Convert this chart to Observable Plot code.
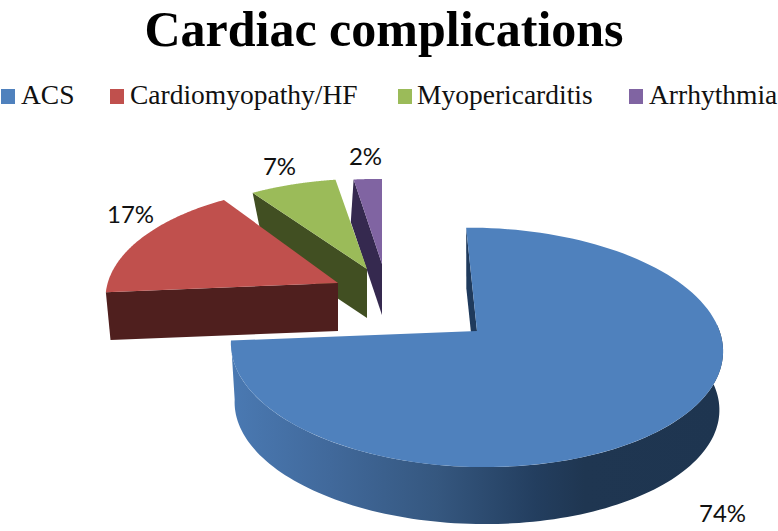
<!DOCTYPE html>
<html><head><meta charset="utf-8">
<script src="https://cdn.jsdelivr.net/npm/d3@7"></script>
<script src="https://cdn.jsdelivr.net/npm/@observablehq/plot@0.6"></script>
<style>
html,body{margin:0;padding:0;background:#fff;width:778px;height:531px;overflow:hidden}
#wrap{position:relative;width:778px;height:531px}
#title{position:absolute;left:0;top:3px;width:768px;text-align:center;font:bold 50px "Liberation Serif",serif;color:#000;line-height:52px;white-space:nowrap}
.sw{position:absolute;top:89px;width:14px;height:15px}
.lg{position:absolute;top:79px;font:27.5px "Liberation Serif",serif;line-height:32px;color:#111;white-space:nowrap}
#chart{position:absolute;left:0;top:115px}
</style></head><body>
<div id="wrap"><div id="title">Cardiac complications</div><div id="legend"></div><div id="chart"></div></div>
<script>
// data
const categories = ["ACS", "Cardiomyopathy/HF", "Myopericarditis", "Arrhythmia"];
const percents = [74, 17, 7, 2];
const colors = ["#4f81bd", "#c0504d", "#9bbb59", "#8064a2"];
const wallColors = ["#1f3a5c", "#4f1f1e", "#414f22", "#35294f"];
const legendSwatchX = [1, 110, 398, 629];
const legendTextX = [21, 130, 417, 649];

// layout of the exploded, tilted pie
const WIDTH = 778, TOP = 115, HEIGHT = 416;
const RX = 245, RY = 118, K = 0.137, START = -2.9;
const views = [
  {apex: [477, 331], scale: 0.995, sx: 1, skew: 0.016, turn: 0, drop: 59, lev: 0.985, label: [245, 183]},
  {apex: [338, 283], scale: 0.94, sx: 1, skew: 0, turn: 1.8, drop: 48, lev: 0.98, label: [-208, -68]},
  {apex: [367, 269], scale: 0.87, sx: 1.06, skew: 0, turn: 1, drop: 49, lev: 0.9, label: [-88, -102]},
  {apex: [382, 264], scale: 0.82, sx: 1.28, skew: 0, turn: 2.9, drop: 51, lev: 1.1, label: [-17, -107]}
];

const rad = d => d * Math.PI / 180;
function rimPoint(v, deg, bottom) {
  const t = rad(deg), s = 1 / (1 + K * Math.cos(t));
  const f = v.scale * (bottom ? v.lev : 1);
  const dx = RX * v.sx * f * Math.sin(t) * s;
  return [v.apex[0] + dx,
          v.apex[1] + (bottom ? v.drop : 0) - RY * f * Math.cos(t) * s + v.skew * dx];
}
let cum = 0;
const slices = categories.map((c, i) => {
  const a0 = START + cum * 3.6 + views[i].turn;
  cum += percents[i];
  const a1 = START + cum * 3.6 + views[i].turn;
  return {category: c, i, a0, a1, view: views[i], percent: percents[i], wall: wallColors[i]};
});
const arcAngles = (a0, a1) => d3.range(0, 121).map(j => a0 + (a1 - a0) * j / 120);

const faces = [], radial = [], rim = [];
for (const s of slices) {
  const v = s.view;
  for (const a of arcAngles(s.a0, s.a1)) {
    const p = rimPoint(v, a, false);
    faces.push({category: s.category, x1: v.apex[0], y1: v.apex[1], x2: p[0], y2: p[1], order: s.i});
  }
  const p = rimPoint(v, s.a0, false), q = rimPoint(v, s.a0, true);
  radial.push({category: s.category, wall: s.wall, x1: v.apex[0], y1: v.apex[1], x2: v.apex[0], y2: v.apex[1] + v.drop, order: s.i});
  radial.push({category: s.category, wall: s.wall, x1: p[0], y1: p[1], x2: q[0], y2: q[1], order: s.i});
}
const acs = slices[0];
for (const a of arcAngles(85, acs.a1)) {
  const p = rimPoint(acs.view, a, false), q = rimPoint(acs.view, a, true);
  rim.push({x1: p[0], y1: p[1], x2: q[0], y2: q[1]});
}

const defs = () => {
  const svg = d3.create("svg:g");
  const g = svg.append("defs").append("linearGradient").attr("id", "acsWall")
    .attr("gradientUnits", "userSpaceOnUse")
    .attr("x1", 232).attr("x2", 722).attr("y1", 0).attr("y2", 0);
  [[0, "#4a79b2"], [0.2, "#41699b"], [0.42, "#35577f"], [0.62, "#233e5f"], [0.72, "#1f3651"], [1, "#1e3550"]]
    .forEach(([o, c]) => g.append("stop").attr("offset", o).attr("stop-color", c));
  return svg.node();
};

const marks = [defs];
for (const i of [3, 2, 1, 0]) {
  const inI = d => d.order === i;
  marks.push(Plot.area(radial.filter(inI), {x1: "x1", y1: "y1", x2: "x2", y2: "y2", fill: wallColors[i]}));
  if (i === 0) marks.push(Plot.area(rim, {x1: "x1", y1: "y1", x2: "x2", y2: "y2", fill: "url(#acsWall)"}));
  marks.push(Plot.area(faces.filter(inI), {x1: "x1", y1: "y1", x2: "x2", y2: "y2", fill: "category"}));
}
marks.push(Plot.text(slices, {
  x: d => d.view.apex[0] + d.view.label[0],
  y: d => d.view.apex[1] + d.view.label[1],
  text: d => d.percent + "%",
  fontFamily: "Lato", fontSize: 24, fill: "#111", textAnchor: "middle", lineAnchor: "middle"
}));

const chart = Plot.plot({
  width: WIDTH, height: HEIGHT,
  margin: 0,
  x: {domain: [0, WIDTH], range: [0, WIDTH], axis: null},
  y: {domain: [TOP, TOP + HEIGHT], range: [0, HEIGHT], axis: null},
  color: {domain: categories, range: colors},
  style: {background: "transparent", overflow: "visible"},
  marks
});
document.getElementById("chart").append(chart);

const legend = document.getElementById("legend");
categories.forEach((c, i) => {
  const sw = document.createElement("div");
  sw.className = "sw"; sw.style.left = legendSwatchX[i] + "px"; sw.style.background = colors[i];
  const t = document.createElement("div");
  t.className = "lg"; t.style.left = legendTextX[i] + "px"; t.textContent = c;
  legend.append(sw, t);
});
</script></body></html>
